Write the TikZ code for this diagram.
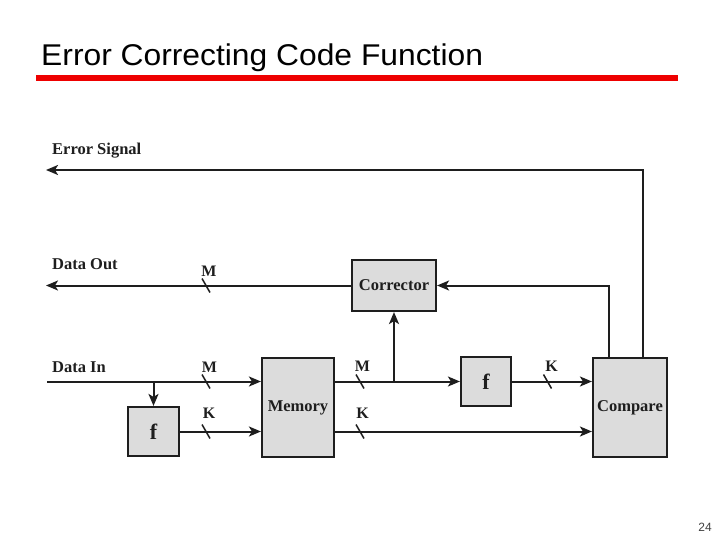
\documentclass[tikz,border=0pt]{standalone}
\usepackage{fontspec}
\usepackage{graphicx}
\setmainfont{Liberation Serif}
\newfontfamily\titlefont{Liberation Sans}
\usetikzlibrary{arrows.meta,calc}
\definecolor{boxgray}{HTML}{DCDCDC}
\definecolor{ink}{HTML}{1E1E1E}
\definecolor{titlered}{HTML}{EE0000}
\tikzset{
  blk/.style={draw=ink, fill=boxgray, line width=2.1pt, inner sep=0pt, font=\bfseries\fontsize{16.5}{18}\selectfont, text=ink},
  wire/.style={draw=ink, line width=2pt},
  arr/.style={wire, -{Stealth[length=12pt,width=10pt,inset=3pt]}},
  lbl/.style={font=\bfseries\fontsize{16.5}{18}\selectfont, text=ink, inner sep=0pt},
  buslbl/.style={font=\bfseries\fontsize{16}{18}\selectfont, text=ink, inner sep=0pt},
  bus/.pic={\draw[ink, line width=1.5pt] (-4,-7) -- (4,7);}
}
\begin{document}
\begin{tikzpicture}[x=1pt,y=-1pt]
\useasboundingbox (0,0) rectangle (720,540);
% title
\node[anchor=base west, inner sep=0pt, font=\titlefont\fontsize{30}{32}\selectfont] (title) at (41,66) {\scalebox{1.06}[1]{Error Correcting Code Function}};
\fill[titlered] (36,75) rectangle (678,81.5);
\node[font=\titlefont\fontsize{12}{14}\selectfont, text=black!75, inner sep=0pt] (pg) at (705,527) {24};
% boxes
\node[blk, minimum width=84pt, minimum height=51pt] (corr) at (394,285.5) {Corrector};
\node[blk, minimum width=50pt, minimum height=49pt, font=\bfseries\fontsize{22}{24}\selectfont] (f2) at (486,381.5) {f};
\node[blk, minimum width=74pt, minimum height=99pt] (cmp) at (630,407.5) {Compare};
\node[blk, minimum width=51pt, minimum height=49pt, font=\bfseries\fontsize{22}{24}\selectfont] (f1) at (153.5,431.5) {f};
\node[blk, minimum width=72pt, minimum height=99pt] (mem) at (298,407.5) {Memory};
% free ends
\coordinate (es) at (46,170);
\coordinate (dout) at (46,285.5);
\coordinate (din) at (47,381.5);
% labels
\node[lbl, anchor=west] (esl) at (52,150.5) {Error Signal};
\node[lbl, anchor=west] (dol) at (52,264) {Data Out};
\node[lbl, anchor=west] (dil) at (52,367) {Data In};
% connectors
\draw[arr] ([xshift=13pt]cmp.north) |- (es);
\draw[arr] ([xshift=-21pt]cmp.north) |- (corr.east);
\draw[arr] (corr.west) -- (dout);
\draw[arr] (din) -- (din -| mem.west);
\draw[arr] (din -| f1.north) -- (f1.north);
\draw[arr] (f1.east) -- (f1.east -| mem.west);
\draw[arr] (mem.east |- f2.west) -- (f2.west);
\draw[arr] (corr.south |- f2.west) -- (corr.south);
\draw[arr] (f2.east) -- (f2.east -| cmp.west);
\draw[arr] (mem.east |- f1.east) -- (f1.east -| cmp.west);
% bus marks
\pic at (206,285.5) {bus};
\pic at (206,381.5) {bus};
\pic at (206,431.5) {bus};
\pic at (360,381.5) {bus};
\pic at (360,431.5) {bus};
\pic at (547.5,381.5) {bus};
\node[buslbl] (m1) at (209,271) {M};
\node[buslbl] (m2) at (209.5,367) {M};
\node[buslbl] (k1) at (209,413) {K};
\node[buslbl] (m3) at (362.5,366.5) {M};
\node[buslbl] (k2) at (362.5,413) {K};
\node[buslbl] (k3) at (551.5,366) {K};
\end{tikzpicture}
\end{document}
